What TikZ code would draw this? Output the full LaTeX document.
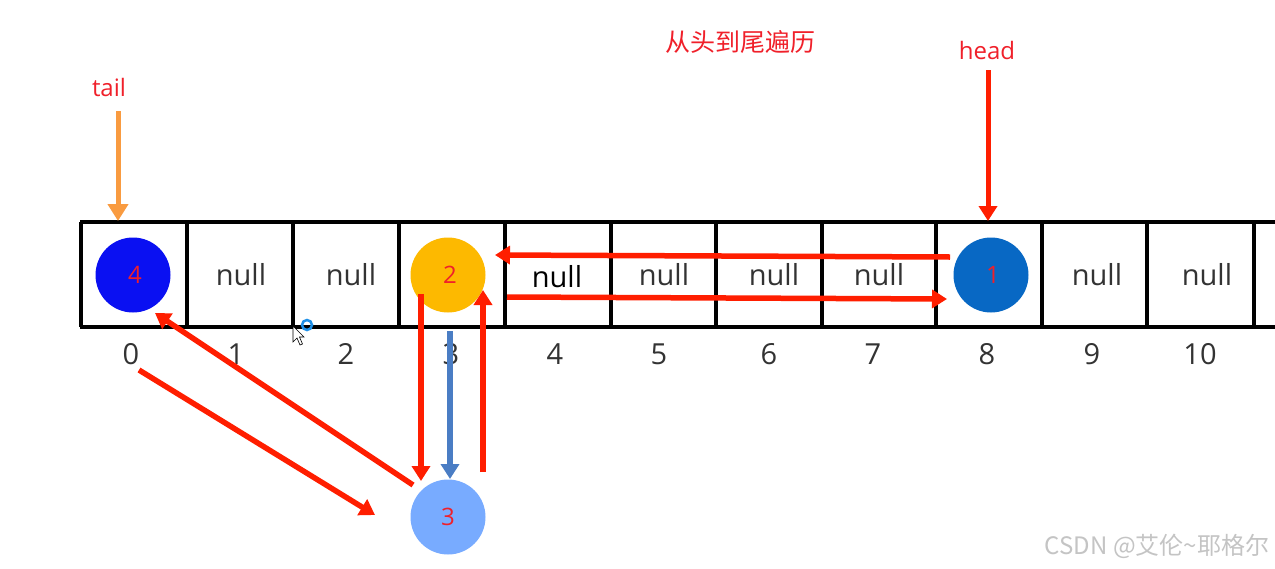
\documentclass[tikz,border=0pt]{standalone}
\usepackage{fontspec}
\setmainfont{Open Sans}
\newfontfamily\cjk{Noto Sans CJK SC}
\usetikzlibrary{arrows.meta}
\definecolor{arrred}{HTML}{FF1E00}
\definecolor{txtred}{HTML}{F0202A}
\definecolor{tailor}{HTML}{F99B40}
\definecolor{arrblue}{HTML}{4A7DC4}
\definecolor{ballA}{HTML}{0A10F2}
\definecolor{ballB}{HTML}{FDB900}
\definecolor{ballC}{HTML}{0868C4}
\definecolor{ballD}{HTML}{78ABFF}
\definecolor{txtgray}{HTML}{333333}
\definecolor{wmgray}{HTML}{C4C4C4}
\definecolor{ringblue}{HTML}{1E90E8}
\begin{document}
\begin{tikzpicture}[x=1pt,y=-1pt,
  redarr/.style={draw=arrred, line width=5.5pt, -{Triangle[length=15pt,width=18pt]}},
  ball/.style={circle, inner sep=0pt, minimum size=75pt, text=txtred, font=\fontsize{24}{28}\selectfont},
  nulltxt/.style={text=txtgray, font=\fontsize{29}{34}\selectfont, inner sep=0pt},
  idx/.style={text=txtgray, font=\fontsize{29}{34}\selectfont, inner sep=0pt},
  lbl/.style={text=txtred, font=\fontsize{24}{28}\selectfont, inner sep=0pt},
  gridline/.style={line width=3.5pt, black}]
\useasboundingbox (0,0) rectangle (1275,568);
\fill[white] (0,0) rectangle (1275,568);

% grid
\draw[gridline] (80,222) -- (1275,222);
\draw[gridline] (80,327) -- (1275,327);
\foreach \x in {81,187,293,399,505,611,716,822,936,1042,1147,1254}
  \draw[gridline] (\x,222) -- (\x,327);

% null texts
\node[nulltxt] (z1) at (241,275) {null};
\node[nulltxt] (z2) at (351,275) {null};
\node[nulltxt, text=black] (z4) at (557,277) {null};
\node[nulltxt] (z5) at (664,275) {null};
\node[nulltxt] (z6) at (774,275) {null};
\node[nulltxt] (z7) at (879,275) {null};
\node[nulltxt] (z9) at (1097,275) {null};
\node[nulltxt] (z10) at (1207,275) {null};

% indices
\foreach \i/\x in {0/131,1/236,2/346,3/451,4/555,5/659,6/769,7/873,8/987,9/1092,10/1200}
  \node[idx] (i\i) at (\x,354) {\i};

% balls
\node[ball, fill=ballA] (n4) at (133,275) {\hspace{4pt}4};
\node[ball, fill=ballB] (n2) at (448,275) {\hspace{4pt}2};
\node[ball, fill=ballC] (n1) at (991,275) {\hspace{4pt}1};
\node[ball, fill=ballD] (n3) at (448,517) {3};

% labels
\node[lbl] (tail) at (109,87) {tail};
\node[lbl] (head) at (987,50) {head};
\node[lbl, font=\cjk\fontsize{25}{29}\selectfont] (title) at (740,42) {从头到尾遍历};
\node[text=wmgray, font=\cjk\fontsize{24}{28}\selectfont, inner sep=0pt] (wm) at (1157,546) {CSDN @艾伦\textasciitilde 耶格尔};

% arrow coordinates
\coordinate (ts) at (118,111);
\coordinate (te) at (118,221);
\coordinate (hs) at (988,70);
\coordinate (he) at (988,221);
\coordinate (a1s) at (950,257);
\coordinate (a1e) at (495,255);
\coordinate (a2s) at (507,297);
\coordinate (a2e) at (947,299);
\coordinate (a3s) at (421,294);
\coordinate (a3e) at (421,481);
\coordinate (a4s) at (450,331);
\coordinate (a4e) at (450,479);
\coordinate (a5s) at (483,472);
\coordinate (a5e) at (483,290);
\coordinate (a6s) at (413,485);
\coordinate (a6e) at (155,313);
\coordinate (a7s) at (139,370);
\coordinate (a7e) at (375,515);

\draw[draw=tailor, line width=5pt, -{Triangle[length=17pt,width=20pt]}] (ts) -- (te);
\draw[redarr, line width=5pt] (hs) -- (he);
\draw[redarr] (a1s) -- (a1e);
\draw[redarr] (a2s) -- (a2e);
\draw[redarr] (a3s) -- (a3e);
\draw[draw=arrblue, line width=5.5pt, -{Triangle[length=15pt,width=18pt]}] (a4s) -- (a4e);
\draw[redarr] (a5s) -- (a5e);
\draw[redarr] (a6s) -- (a6e);
\draw[redarr] (a7s) -- (a7e);

% cursor artefacts
\draw[ringblue, line width=2.5pt] (307,325) circle (5pt);
\filldraw[fill=white, draw=black, line width=0.6pt]
  (293,326) -- (293,342) -- (297,338) -- (300,345) -- (302.5,344) -- (299.5,337) -- (304,337) -- cycle;
\end{tikzpicture}
\end{document}
